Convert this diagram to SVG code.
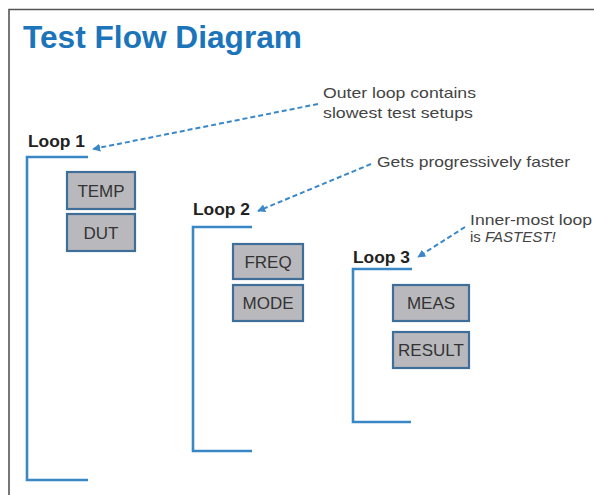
<svg xmlns="http://www.w3.org/2000/svg" width="594" height="495" viewBox="0 0 594 495">
<defs>
<marker id="ah" viewBox="0 0 10 10" refX="9" refY="5" markerWidth="4" markerHeight="4" orient="auto" markerUnits="strokeWidth">
<path d="M0,0 L10,5 L0,10 Z" fill="#3a88c8"/>
</marker>
<style>
.frame{stroke:#555;stroke-width:1.6;fill:none}
.title{font-family:"Liberation Sans",Arial,sans-serif;font-weight:bold;font-size:31px;fill:#1c74ba}
.note{font-family:"Liberation Sans",Arial,sans-serif;font-size:15px;fill:#444}
.loop{font-family:"Liberation Sans",Arial,sans-serif;font-weight:bold;font-size:16.5px;fill:#222}
.bracket{stroke:#3a87c6;stroke-width:2.6;fill:none;stroke-linejoin:miter}
.box rect{fill:#b9b9bd;stroke:#3f6f99;stroke-width:2.2}
.box text{font-family:"Liberation Sans",Arial,sans-serif;font-size:17px;fill:#333;text-anchor:middle}
.dash{stroke:#3a88c8;stroke-width:2;stroke-dasharray:5 3;fill:none;marker-end:url(#ah)}
</style>
</defs>
<rect width="594" height="495" fill="#ffffff"/>
<path class="frame" d="M9,495 V9.5 H594"/>
<text class="title" x="23" y="48" textLength="279" lengthAdjust="spacingAndGlyphs">Test Flow Diagram</text>

<g id="note1">
<text class="note" x="323" y="98" textLength="153" lengthAdjust="spacingAndGlyphs">Outer loop contains</text>
<text class="note" x="323" y="118" textLength="150" lengthAdjust="spacingAndGlyphs">slowest test setups</text>
</g>
<g id="note2">
<text class="note" x="377" y="167" textLength="193" lengthAdjust="spacingAndGlyphs">Gets progressively faster</text>
</g>
<g id="note3">
<text class="note" x="470" y="225" textLength="122" lengthAdjust="spacingAndGlyphs">Inner-most loop</text>
<text class="note" x="470" y="242">is <tspan font-style="italic">FASTEST!</tspan></text>
</g>

<g id="loop1">
<text class="loop" x="28" y="147" textLength="57" lengthAdjust="spacingAndGlyphs">Loop 1</text>
<path class="bracket" d="M88,157 H27 V480 H88"/>
</g>
<g id="loop2">
<text class="loop" x="193" y="215" textLength="57" lengthAdjust="spacingAndGlyphs">Loop 2</text>
<path class="bracket" d="M252,227 H193 V451 H252"/>
</g>
<g id="loop3">
<text class="loop" x="353" y="263" textLength="57" lengthAdjust="spacingAndGlyphs">Loop 3</text>
<path class="bracket" d="M412,269 H353 V422 H411"/>
</g>

<g id="temp" class="box"><rect x="67" y="172" width="68" height="37"/><text x="101" y="197">TEMP</text></g>
<g id="dut" class="box"><rect x="67" y="214" width="68" height="37"/><text x="101" y="239">DUT</text></g>
<g id="freq" class="box"><rect x="233" y="244" width="70" height="35"/><text x="268" y="268">FREQ</text></g>
<g id="mode" class="box"><rect x="233" y="285" width="70" height="36"/><text x="268" y="309">MODE</text></g>
<g id="meas" class="box"><rect x="393" y="285" width="76" height="36"/><text x="431" y="309">MEAS</text></g>
<g id="result" class="box"><rect x="393" y="332" width="76" height="36"/><text x="431" y="356">RESULT</text></g>

<g id="connectors">
<path class="dash" d="M318,104 L93,149"/>
<path class="dash" d="M371,164 L258,211"/>
<path class="dash" d="M465,227 L418,257"/>
</g>
</svg>
